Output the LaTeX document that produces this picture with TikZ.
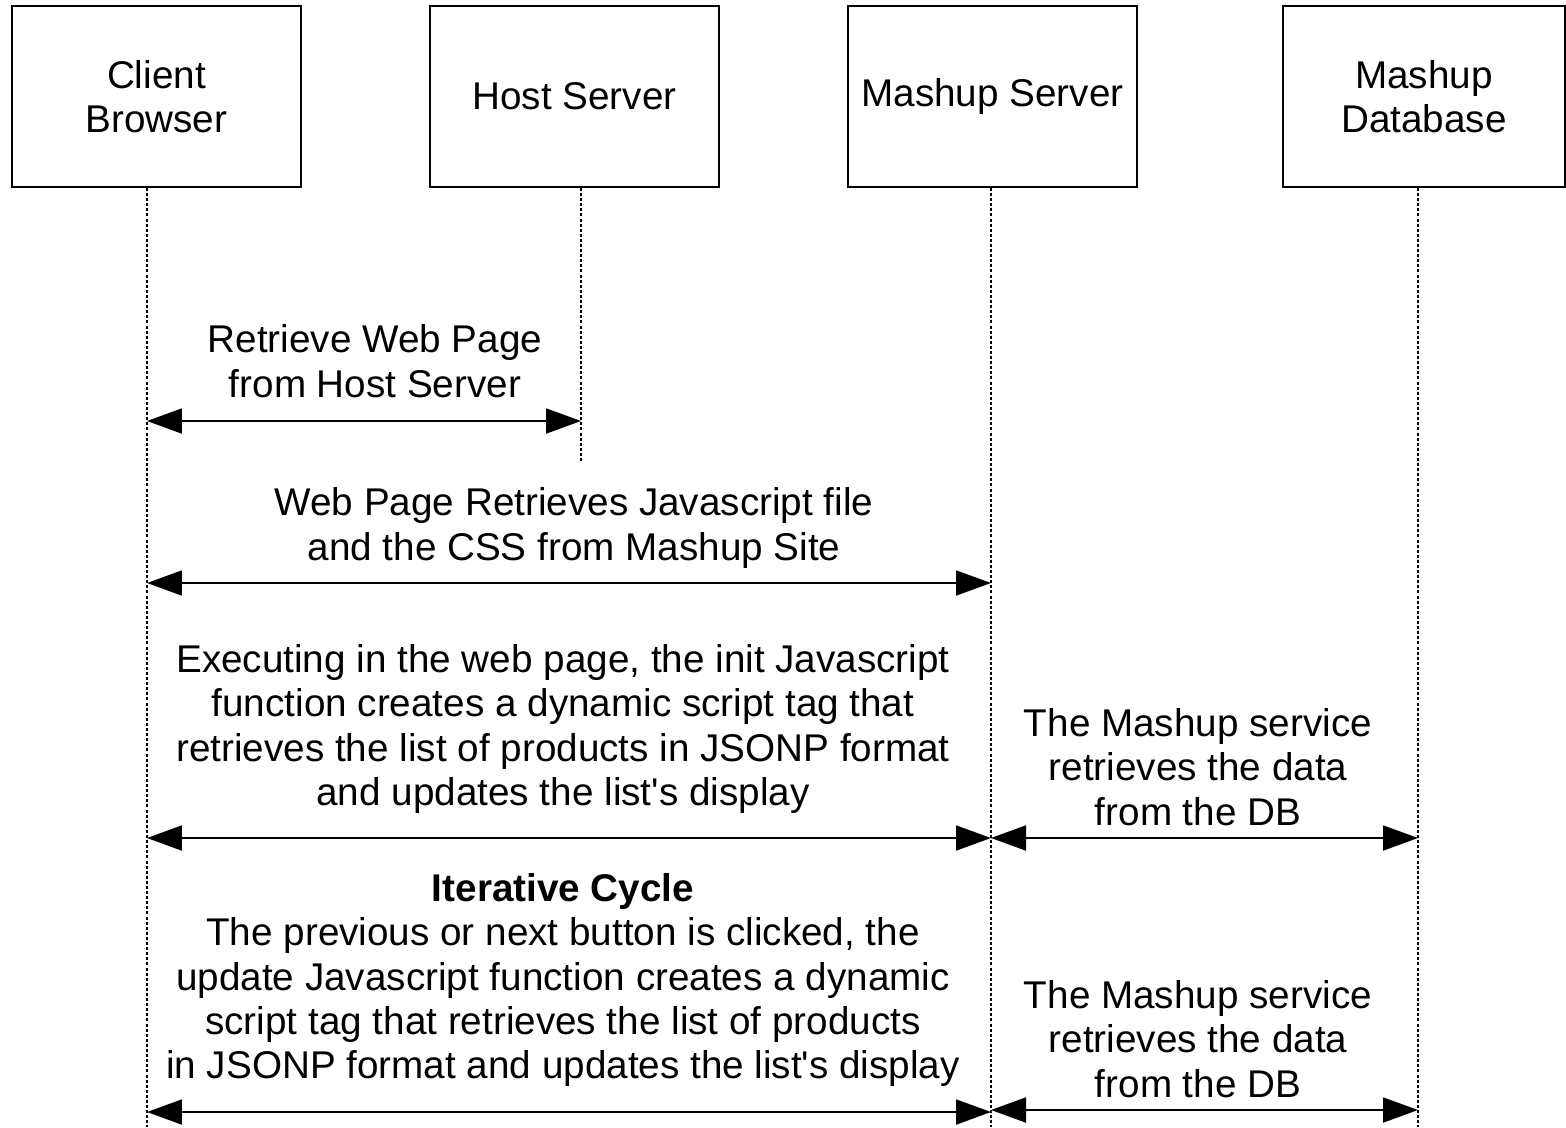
\documentclass[tikz,border=0pt]{standalone}
\usepackage{fontspec}
\setmainfont{Liberation Sans}
\usepackage{tikz}
\usetikzlibrary{arrows.meta, positioning}
\tikzstyle{acteur} = [rectangle, minimum width = 5.78cm, minimum height = 3.62cm, align = center, draw = black, line width = 1.1pt, font = \fontsize{22}{25.3}\selectfont]
\tikzstyle{vie} = [line width = 0.6pt, dash pattern = on 1.7pt off 1.2pt]
\tikzstyle{message} = [line width = 1.1pt, {Triangle[length = 0.7cm, width = 0.5cm]}-{Triangle[length = 0.7cm, width = 0.5cm]}]
\tikzstyle{texte} = [align = center, inner sep = 0pt, font = \fontsize{22}{25.3}\selectfont]

\begin{document}
\begin{tikzpicture}[x = 0.02cm, y = -0.02cm]
\useasboundingbox (0,0) rectangle (1566,1127) ;

\node (c) [acteur] at (156.5,96.5) {Client\\Browser} ;
\node (h) [acteur] at (574.5,96.5) {Host Server} ;
\node (m) [acteur] at (992.5,96.5) {Mashup Server} ;
\node (d) [acteur, minimum width = 5.64cm] at (1424,96.5) {Mashup\\Database} ;

% lignes de vie
\coordinate (cb) at (147,1127) ;
\coordinate (hb) at (581,462) ;
\coordinate (mb) at (991,1127) ;
\coordinate (db) at (1418,1127) ;
\draw[vie] (cb |- c.south) -- (cb) ;
\draw[vie] (hb |- h.south) -- (hb) ;
\draw[vie] (mb |- m.south) -- (mb) ;
\draw[vie] (db |- d.south) -- (db) ;

% messages
\draw[message] (cb |- 0,421) -- (hb |- 0,421) ;
\node (t1) [texte] at (375,361) {Retrieve Web Page\\from Host Server} ;

\draw[message] (cb |- 0,583) -- (mb |- 0,583) ;
\node (t2) [texte] at (574,528) {Web Page Retrieves Javascript file\\and the CSS from Mashup Site} ;

\draw[message] (cb |- 0,838) -- (mb |- 0,838) ;
\node (t3) [texte] at (563,729) {Executing in the web page, the init Javascript\\function creates a dynamic script tag that\\retrieves the list of products in JSONP format\\and updates the list\textquotesingle s display} ;
\draw[message] (mb |- 0,838) -- (db |- 0,838) ;
\node (t4) [texte] at (1198,767) {The Mashup service\\retrieves the data\\from the DB} ;

\draw[message] (cb |- 0,1112) -- (mb |- 0,1112) ;
\node (t5) [texte] at (563,980) {\textbf{Iterative Cycle}\\The previous or next button is clicked, the\\update Javascript function creates a dynamic\\script tag that retrieves the list of products\\in JSONP format and updates the list\textquotesingle s display} ;
\draw[message] (mb |- 0,1110) -- (db |- 0,1110) ;
\node (t6) [texte] at (1198,1039) {The Mashup service\\retrieves the data\\from the DB} ;
\end{tikzpicture}
\end{document}
